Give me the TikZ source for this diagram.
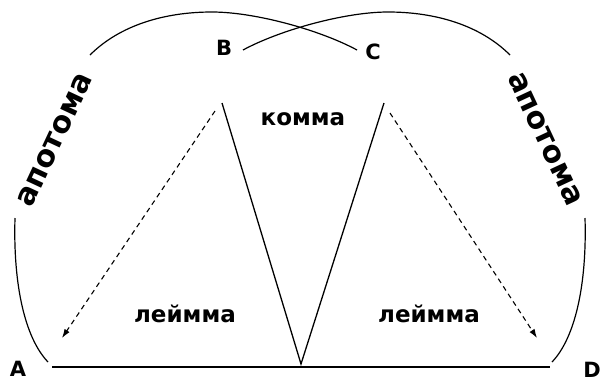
\documentclass[tikz,border=0pt]{standalone}
\usepackage{fontspec}
\setmainfont{DejaVu Sans}
\usetikzlibrary{arrows.meta}
\begin{document}
\begin{tikzpicture}[x=1pt,y=-1pt,
  arcline/.style={line width=1.2pt},
  zig/.style={line width=1.3pt, line join=miter},
  baseline/.style={line width=2.4pt},
  dasharrow/.style={line width=1.1pt, dash pattern=on 5pt off 4pt, -{Latex[length=9pt,width=6pt]}},
  lbl/.style={font=\bfseries\fontsize{21}{21}\selectfont, inner sep=0pt, anchor=base},
  word/.style={font=\bfseries\fontsize{23}{23}\selectfont, inner sep=0pt, anchor=base},
  bigword/.style={font=\bfseries\fontsize{30}{30}\selectfont, inner sep=0pt}]
\useasboundingbox (0,0) rectangle (601,381);
% points
\coordinate (a1) at (48,362);
\coordinate (a2) at (15,218);
\coordinate (a3) at (90,55);
\coordinate (atop) at (212,12);
\coordinate (aend) at (357,50);
\coordinate (d1) at (552,362);
\coordinate (d2) at (585,218);
\coordinate (d3) at (510,55);
\coordinate (dtop) at (388,12);
\coordinate (dend) at (243,50);
\coordinate (lineL) at (52,367);
\coordinate (lineR) at (550,367);
\coordinate (zb) at (301,364);
\coordinate (zl) at (222,103);
\coordinate (zr) at (384,103);
\coordinate (dl0) at (215,111);
\coordinate (dl1) at (62,338);
\coordinate (dr0) at (390,113);
\coordinate (dr1) at (537,338);
% arcs
\draw[arcline] (a1) .. controls (25,338) and (13,285) .. (a2);
\draw[arcline] (a3) .. controls (120,25) and (165,12) .. (atop)
               .. controls (255,12) and (320,30) .. (aend);
\draw[arcline] (d1) .. controls (575,338) and (587,285) .. (d2);
\draw[arcline] (d3) .. controls (480,25) and (435,12) .. (dtop)
               .. controls (345,12) and (280,30) .. (dend);
% base line
\draw[baseline] (lineL) -- (lineR);
% zigzag
\draw[zig] (zl) -- (zb) -- (zr);
% dashed arrows
\draw[dasharrow] (dl0) -- (dl1);
\draw[dasharrow] (dr0) -- (dr1);
% texts
\node[bigword, rotate=65] (apL) at (55,140) {апотома};
\node[bigword, rotate=-65] (apR) at (545,139) {апотома};
\node[word] (komma) at (303,125) {комма};
\node[word] (leL) at (185,322) {леймма};
\node[word] (leR) at (429,322) {леймма};
\node[lbl] (A) at (18,376) {A};
\node[lbl] (B) at (224,55) {B};
\node[lbl] (C) at (373,59) {C};
\node[lbl] (D) at (592,377) {D};
\end{tikzpicture}
\end{document}
